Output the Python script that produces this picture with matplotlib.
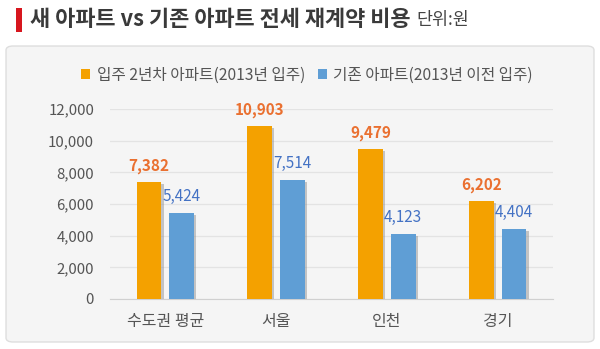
import matplotlib
matplotlib.use("Agg")
import matplotlib.pyplot as plt
import numpy as np
from matplotlib.patches import FancyBboxPatch, Rectangle
import matplotlib.patheffects as pe

plt.rcParams['font.family'] = ['Noto Sans CJK KR', 'DejaVu Sans']

categories = ["수도권 평균", "서울", "인천", "경기"]
new_apt = [7382, 10903, 9479, 6202]
old_apt = [5424, 7514, 4123, 4404]
series_names = ["입주 2년차 아파트(2013년 입주)", "기존 아파트(2013년 이전 입주)"]
yticks = [0, 2000, 4000, 6000, 8000, 10000, 12000]

c_orange = "#F4A100"
c_blue = "#5F9ED5"
c_lab_orange = "#EA7030"
c_lab_blue = "#4472C4"

fig = plt.figure(figsize=(6, 3.49), dpi=100)
fig.patch.set_facecolor("white")

# panel
panel = FancyBboxPatch((6/600, 1-342/349), 588/600, 296/349,
                       boxstyle="round,pad=0,rounding_size=0.012",
                       transform=fig.transFigure, facecolor="#F5F5F5",
                       edgecolor="#DEDEDE", linewidth=1.0, zorder=-10)
fig.patches.append(panel)

# title
fig.patches.append(Rectangle((16/600, 1-32/349), 6/600, 24/349,
                             transform=fig.transFigure, facecolor="#D7161E",
                             edgecolor="none", zorder=-5))
t = fig.text(30/600, 1-20/349, "새 아파트 vs 기존 아파트 전세 재계약 비용",
             fontsize=15.8, fontweight="bold", color="#3A3A3A", va="center", ha="left")
fig.canvas.draw()
bb = t.get_window_extent()
fig.text((bb.x1 + 6)/600, 1-20/349, "단위:원", fontsize=12.5, color="#444444",
         va="center", ha="left")

ax = fig.add_axes([110/600, 1-299/349, 443/600, 190/349])
ax.set_facecolor("none")
x = np.arange(len(categories))
w = 0.225
off = 0.148
shadow = [pe.SimplePatchShadow(offset=(1.5, -1.5), shadow_rgbFace="#888888", alpha=0.45), pe.Normal()]
b1 = ax.bar(x - off, new_apt, w, color=c_orange, zorder=3, path_effects=shadow, label=series_names[0])
b2 = ax.bar(x + off, old_apt, w, color=c_blue, zorder=3, path_effects=shadow, label=series_names[1])

for xi, v in zip(x, new_apt):
    ax.text(xi - off, v + 500, f"{v:,}", ha="center", va="bottom", fontsize=11,
            fontweight="bold", color=c_lab_orange)
for xi, v in zip(x, old_apt):
    ax.text(xi + off, v + 500, f"{v:,}", ha="center", va="bottom", fontsize=11,
            color=c_lab_blue)

ax.set_xlim(-0.5, len(categories) - 0.5)
ax.set_ylim(0, 12000)
ax.set_yticks(yticks)
ax.set_yticklabels([f"{v:,}" for v in yticks])
ax.set_xticks(x)
ax.set_xticklabels(categories)
ax.tick_params(axis="both", length=0, colors="#555555")
ax.tick_params(axis="y", pad=11.5, labelsize=10.8)
ax.tick_params(axis="x", pad=10, labelsize=11.5)
for s in ["top", "right", "left"]:
    ax.spines[s].set_visible(False)
ax.spines["bottom"].set_color("#D0D0D0")
ax.grid(axis="y", color="#E3E3E3", linewidth=0.9, zorder=0)
ax.set_axisbelow(True)

leg = fig.legend(handles=[b1, b2], labels=series_names, loc="center",
                 bbox_to_anchor=(307/600, 1-75/349), ncol=2, frameon=False,
                 fontsize=11.3, handlelength=0.6, handleheight=0.6,
                 handletextpad=0.4, columnspacing=0.8, labelcolor="#555555")
for h in leg.legend_handles:
    h.set_path_effects([])

fig.savefig("out.png", dpi=100, facecolor="white")
